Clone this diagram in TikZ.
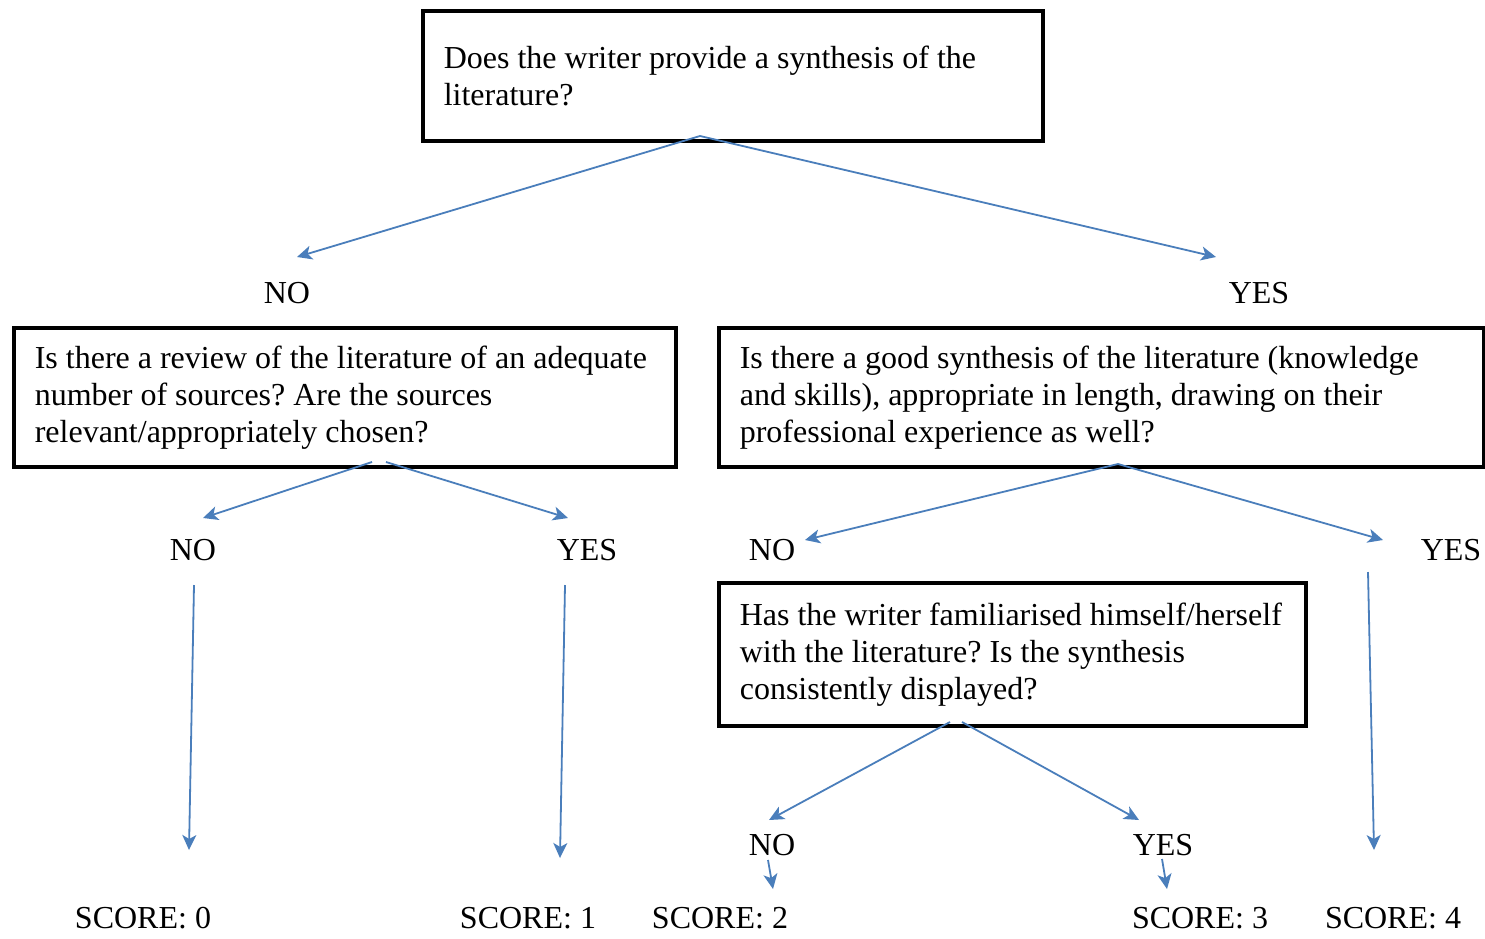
\documentclass[tikz,border=0pt]{standalone}
\usepackage{fontspec}
\setmainfont{Liberation Serif}
\usetikzlibrary{arrows.meta}
\definecolor{linkblue}{RGB}{74,126,187}
\frenchspacing
\hyphenpenalty=10000
\exhyphenpenalty=10000
\begin{document}
\begin{tikzpicture}[x=1pt,y=-1pt,
  question/.style={draw=black, line width=3.6pt, anchor=north west,
    inner xsep=21pt, inner ysep=0pt, align=flush left,
    font=\fontsize{32}{37}\selectfont},
  answer/.style={inner sep=0pt, font=\fontsize{32}{37}\selectfont},
  link/.style={draw=linkblue, line width=1.8pt,
    -{Stealth[length=15pt, width=14pt, inset=4pt]}}]
\useasboundingbox (0,0) rectangle (1485,938);

% question boxes
\node[question, text width=578pt, minimum height=130pt] (q0) at (421,9)
  {Does the writer provide a synthesis of the\\literature?};
\node[question, text width=620pt, minimum height=139pt] (q1) at (12,326)
  {Is there a review of the literature of an adequate\\number of sources? Are the sources\\relevant/appropriately chosen?};
\node[question, text width=723pt, minimum height=139pt] (q2) at (717,326)
  {Is there a good synthesis of the literature (knowledge\\and skills), appropriate in length, drawing on their\\professional experience as well?};
\node[question, text width=545pt, minimum height=143pt] (q3) at (717,581)
  {Has the writer familiarised himself/herself\\with the literature? Is the synthesis\\consistently displayed?};

% answers
\node[answer] (n0) at (287,293) {NO};
\node[answer] (y0) at (1259,293) {YES};
\node[answer] (n1) at (193,550) {NO};
\node[answer] (y1) at (587,550) {YES};
\node[answer] (n2) at (772,550) {NO};
\node[answer] (y2) at (1451,550) {YES};
\node[answer] (n3) at (772,845) {NO};
\node[answer] (y3) at (1163,845) {YES};

% scores
\node[answer] (s0) at (143,918) {SCORE: 0};
\node[answer] (s1) at (528,918) {SCORE: 1};
\node[answer] (s2) at (720,918) {SCORE: 2};
\node[answer] (s3) at (1200,918) {SCORE: 3};
\node[answer] (s4) at (1393,918) {SCORE: 4};

% connector end points
\coordinate (q0out) at (700,136);
\coordinate (q1outl) at (372,462);
\coordinate (q1outr) at (386,462);
\coordinate (q2out) at (1118,464);
\coordinate (q3outl) at (950,722);
\coordinate (q3outr) at (962,722);
\coordinate (toN0) at (297,257);
\coordinate (toY0) at (1216,257);
\coordinate (toN1) at (203,518);
\coordinate (toY1) at (568,518);
\coordinate (toN2) at (805,540);
\coordinate (toY2) at (1383,540);
\coordinate (toN3) at (769,820);
\coordinate (toY3) at (1139,820);
\coordinate (fromN1) at (194,585);
\coordinate (toS0) at (189,850);
\coordinate (fromY1) at (565,585);
\coordinate (toS1) at (560,858);
\coordinate (fromY2) at (1368,572);
\coordinate (toS4) at (1374,850);
\coordinate (fromN3) at (768,860);
\coordinate (toS2) at (773,889);
\coordinate (fromY3) at (1162,859);
\coordinate (toS3) at (1167,889);

% connectors
\draw[link] (q0out) -- (toN0);
\draw[link] (q0out) -- (toY0);
\draw[link] (q1outl) -- (toN1);
\draw[link] (q1outr) -- (toY1);
\draw[link] (q2out) -- (toN2);
\draw[link] (q2out) -- (toY2);
\draw[link] (q3outl) -- (toN3);
\draw[link] (q3outr) -- (toY3);
\draw[link] (fromN1) -- (toS0);
\draw[link] (fromY1) -- (toS1);
\draw[link] (fromY2) -- (toS4);
\draw[link] (fromN3) -- (toS2);
\draw[link] (fromY3) -- (toS3);
\end{tikzpicture}
\end{document}
